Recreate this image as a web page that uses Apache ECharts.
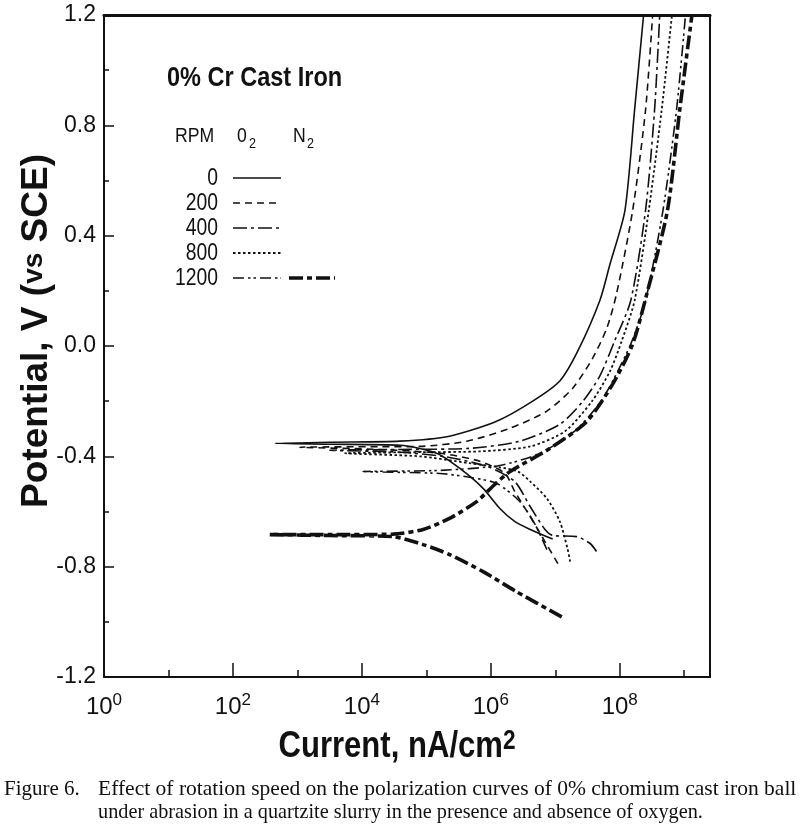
<!DOCTYPE html>
<html><head><meta charset="utf-8">
<script src="https://cdn.jsdelivr.net/npm/echarts@6/dist/echarts.min.js"></script>
<style>html,body{margin:0;padding:0;background:#fff}#c{width:800px;height:834px}</style>
</head><body><div id="c"></div>
<script>
// ---- axis ticks ----
const xMajorExponents = [0, 2, 4, 6, 8];      // labels 10^n
const xExponentMax = 9.4;
const yTickValues = [-1.2, -0.8, -0.4, 0.0, 0.4, 0.8, 1.2];

// ---- curves: x = log10(current, nA/cm2), y = potential V vs SCE ----
// ordered cathodic end -> corrosion potential -> anodic end
const rpm0_O2_logI = [6.96, 6.61, 6.37, 6.14, 5.88, 5.52, 5.16, 4.59, 3.50, 2.65, 3.50, 4.59, 5.36, 6.09, 6.65, 7.07, 7.35, 7.69, 7.85, 8.08, 8.23, 8.37];
const rpm0_O2_E    = [-0.700, -0.665, -0.636, -0.589, -0.516, -0.444, -0.389, -0.360, -0.356, -0.353, -0.349, -0.345, -0.327, -0.273, -0.200, -0.127, -0.018, 0.164, 0.298, 0.491, 0.855, 1.2];

const rpm200_O2_logI = [7.04, 6.84, 6.61, 6.37, 6.22, 5.83, 5.21, 4.28, 3.04, 4.28, 4.90, 5.63, 6.30, 6.87, 7.27, 7.58, 7.80, 7.95, 8.20, 8.40, 8.51];
const rpm200_O2_E    = [-0.789, -0.709, -0.618, -0.527, -0.462, -0.418, -0.389, -0.375, -0.367, -0.365, -0.364, -0.345, -0.298, -0.236, -0.153, -0.044, 0.065, 0.189, 0.491, 0.855, 1.2];

const rpm400_O2_logI = [7.64, 7.54, 7.33, 6.96, 6.84, 6.61, 6.37, 5.98, 5.36, 4.59, 3.50, 4.59, 5.67, 6.45, 7.07, 7.43, 7.69, 7.92, 8.17, 8.40, 8.54, 8.62];
const rpm400_O2_E    = [-0.745, -0.716, -0.691, -0.687, -0.665, -0.582, -0.491, -0.440, -0.404, -0.385, -0.378, -0.375, -0.371, -0.345, -0.284, -0.200, -0.109, 0.018, 0.164, 0.491, 0.855, 1.2];

const rpm800_O2_logI = [7.23, 7.19, 7.07, 6.87, 6.61, 6.42, 6.14, 5.67, 4.90, 3.74, 4.90, 5.83, 6.61, 7.15, 7.57, 7.85, 8.03, 8.23, 8.45, 8.65, 8.81];
const rpm800_O2_E    = [-0.782, -0.735, -0.636, -0.553, -0.491, -0.455, -0.440, -0.425, -0.400, -0.389, -0.385, -0.382, -0.364, -0.309, -0.200, -0.091, 0.018, 0.164, 0.491, 0.855, 1.2];

const rpm1200_O2_logI = [6.87, 6.68, 6.45, 6.09, 5.67, 5.21, 4.02, 5.21, 6.14, 6.76, 7.30, 7.71, 7.97, 8.19, 8.40, 8.67, 8.88, 9.02];
const rpm1200_O2_E    = [-0.738, -0.644, -0.564, -0.498, -0.476, -0.462, -0.455, -0.451, -0.433, -0.389, -0.309, -0.200, -0.091, 0.018, 0.164, 0.491, 0.855, 1.2];

const rpm1200_N2_logI = [7.10, 6.40, 5.88, 5.36, 4.95, 4.48, 3.50, 2.57, 3.50, 4.48, 4.95, 5.36, 5.78, 6.06, 6.30, 6.92, 7.49, 7.89, 8.20, 8.42, 8.74, 8.93, 9.12];
const rpm1200_N2_E    = [-0.982, -0.891, -0.818, -0.756, -0.720, -0.691, -0.687, -0.684, -0.684, -0.682, -0.665, -0.625, -0.564, -0.502, -0.455, -0.371, -0.273, -0.138, 0.007, 0.189, 0.491, 0.855, 1.2];

// ---- legend / caption text ----
const legendTitle = '0% Cr Cast Iron';
const legendRpm = ['0', '200', '400', '800', '1200'];
const captionLabel = 'Figure 6.';
const captionLine1 = 'Effect of rotation speed on the polarization curves of 0% chromium cast iron ball';
const captionLine2 = 'under abrasion in a quartzite slurry in the presence and absence of oxygen.';

const INK = '#111';
const SANS = "'Liberation Sans', Arial, Helvetica, sans-serif";
const SERIF = "'Liberation Serif', 'Times New Roman', serif";
const NARROW_SCALE = 0.84;

const styles = {
  s0:    {w: 1.6, dash: 'solid'},
  s200:  {w: 1.6, dash: [7, 5]},
  s400:  {w: 1.6, dash: [14, 4, 3, 4]},
  s800:  {w: 1.8, dash: [2.5, 2.5]},
  s1200: {w: 1.6, dash: [11, 4, 2.5, 3, 2.5, 4]},
  sN2:   {w: 3.6, dash: [14, 4, 5, 4]}
};

function zip(xs, ys) { return xs.map((x, i) => [x, ys[i]]); }
function mk(name, xs, ys, st) {
  return {
    type: 'line', name: name, data: zip(xs, ys),
    xAxisIndex: 0, yAxisIndex: 0,
    showSymbol: false, symbol: 'none', smooth: 0.25,
    lineStyle: {color: INK, width: st.w, type: st.dash, cap: 'butt'},
    clip: true, animation: false, silent: true
  };
}

const chart = echarts.init(document.getElementById('c'), null, {renderer: 'canvas'});

const G = {left: 104, top: 15, width: 606, height: 662};

const graphics = [];
function txt(x, y, text, font, size, weight, align, sx) {
  graphics.push({
    type: 'text', x: x, y: y, scaleX: sx || 1,
    style: {text: text, fontFamily: font, fontSize: size, fontWeight: weight || 'normal',
            fill: INK, textAlign: align || 'left', textVerticalAlign: 'middle'}
  });
}
function seg(x1, y, x2, st) {
  graphics.push({
    type: 'line', shape: {x1: x1, y1: y, x2: x2, y2: y},
    style: {stroke: INK, lineWidth: st.w, lineDash: st.dash === 'solid' ? null : st.dash}
  });
}

// legend block
txt(167, 78, legendTitle, SANS, 28, 'bold', 'left', NARROW_SCALE);
txt(175, 136, 'RPM', SANS, 21, 'normal', 'left', NARROW_SCALE);
txt(237, 136, '0', SANS, 21, 'normal', 'left', NARROW_SCALE);
txt(249, 144, '2', SANS, 15, 'normal', 'left', NARROW_SCALE);
txt(293, 136, 'N', SANS, 21, 'normal', 'left', NARROW_SCALE);
txt(307, 144, '2', SANS, 15, 'normal', 'left', NARROW_SCALE);
const rowY = [178, 203, 228, 253, 278];
const rowStyles = [styles.s0, styles.s200, styles.s400, styles.s800, styles.s1200];
legendRpm.forEach((r, i) => {
  txt(218, rowY[i] + 1, r, SANS, 23, 'normal', 'right', NARROW_SCALE);
  seg(233, rowY[i], 281, rowStyles[i]);
});
seg(289, rowY[4], 335, styles.sN2);

// axis titles
graphics.push({
  type: 'text', x: 37, y: 331, rotation: Math.PI / 2,
  style: {
    text: '{a|Potential, V (}{b|vs}{a| SCE)}',
    textAlign: 'center', textVerticalAlign: 'middle', fill: INK,
    rich: {
      a: {fontFamily: SANS, fontSize: 37, fontWeight: 'bold', fill: INK, lineHeight: 42},
      b: {fontFamily: SANS, fontSize: 28, fontWeight: 'bold', fill: INK, lineHeight: 42, padding: [0, 0, 6, 0]}
    }
  }
});
graphics.push({
  type: 'text', x: 397, y: 747, scaleX: NARROW_SCALE,
  style: {
    text: '{a|Current, nA/cm}{b|2}',
    textAlign: 'center', textVerticalAlign: 'middle', fill: INK,
    rich: {
      a: {fontFamily: SANS, fontSize: 37, fontWeight: 'bold', fill: INK, lineHeight: 42},
      b: {fontFamily: SANS, fontSize: 27, fontWeight: 'bold', fill: INK, lineHeight: 42, padding: [0, 0, 10, 0]}
    }
  }
});

// caption
txt(4, 789, captionLabel, SERIF, 21);
txt(98, 789, captionLine1, SERIF, 21, 'normal', 'left', 1.025);
txt(98, 812, captionLine2, SERIF, 21, 'normal', 'left', 0.965);

const option = {
  backgroundColor: '#fff',
  animation: false,
  grid: {left: G.left, top: G.top, width: G.width, height: G.height, containLabel: false},
  xAxis: [
    { // main bottom axis, decade labels every 2
      type: 'value', min: 0, max: xExponentMax, interval: 2, position: 'bottom',
      axisLine: {show: true, onZero: false, lineStyle: {color: INK, width: 2}},
      axisTick: {show: true, inside: true, length: 14, lineStyle: {color: INK, width: 1.5}},
      minorTick: {show: false},
      splitLine: {show: false},
      axisLabel: {
        margin: 15, showMaxLabel: false,
        formatter: function (v) {
          if (xMajorExponents.indexOf(Math.round(v)) < 0 || Math.abs(v - Math.round(v)) > 1e-6) return '';
          return '{b|10}{s|' + Math.round(v) + '}';
        },
        rich: {
          b: {fontFamily: SANS, fontSize: 24, color: INK, lineHeight: 30},
          s: {fontFamily: SANS, fontSize: 17, color: INK, lineHeight: 16, verticalAlign: 'top'}
        }
      }
    },
    { // odd-decade small ticks
      type: 'value', min: 0, max: xExponentMax, interval: 1, position: 'bottom',
      axisLine: {show: false, onZero: false},
      axisTick: {show: true, inside: true, length: 7, lineStyle: {color: INK, width: 1.5}},
      axisLabel: {show: false}, splitLine: {show: false}
    },
    { // top frame
      type: 'value', min: 0, max: xExponentMax, position: 'top',
      axisLine: {show: true, onZero: false, lineStyle: {color: INK, width: 3}},
      axisTick: {show: false}, axisLabel: {show: false}, splitLine: {show: false}
    }
  ],
  yAxis: [
    {
      type: 'value', min: yTickValues[0], max: yTickValues[yTickValues.length - 1], interval: 0.4,
      position: 'left',
      axisLine: {show: true, onZero: false, lineStyle: {color: INK, width: 2}},
      axisTick: {show: true, inside: true, length: 10, lineStyle: {color: INK, width: 1.5}},
      minorTick: {show: true, splitNumber: 2, length: 5, lineStyle: {color: INK, width: 1.5}},
      splitLine: {show: false},
      axisLabel: {
        margin: 8, fontFamily: SANS, fontSize: 23, color: INK,
        formatter: function (v) { return v.toFixed(1); }
      }
    },
    {
      type: 'value', min: -1.2, max: 1.2, position: 'right',
      axisLine: {show: true, onZero: false, lineStyle: {color: INK, width: 2}},
      axisTick: {show: false}, axisLabel: {show: false}, splitLine: {show: false}
    }
  ],
  series: [
    mk('0 RPM O2', rpm0_O2_logI, rpm0_O2_E, styles.s0),
    mk('200 RPM O2', rpm200_O2_logI, rpm200_O2_E, styles.s200),
    mk('400 RPM O2', rpm400_O2_logI, rpm400_O2_E, styles.s400),
    mk('800 RPM O2', rpm800_O2_logI, rpm800_O2_E, styles.s800),
    mk('1200 RPM O2', rpm1200_O2_logI, rpm1200_O2_E, styles.s1200),
    mk('1200 RPM N2', rpm1200_N2_logI, rpm1200_N2_E, styles.sN2)
  ],
  graphic: graphics
};
chart.setOption(option);
</script>
</body></html>
